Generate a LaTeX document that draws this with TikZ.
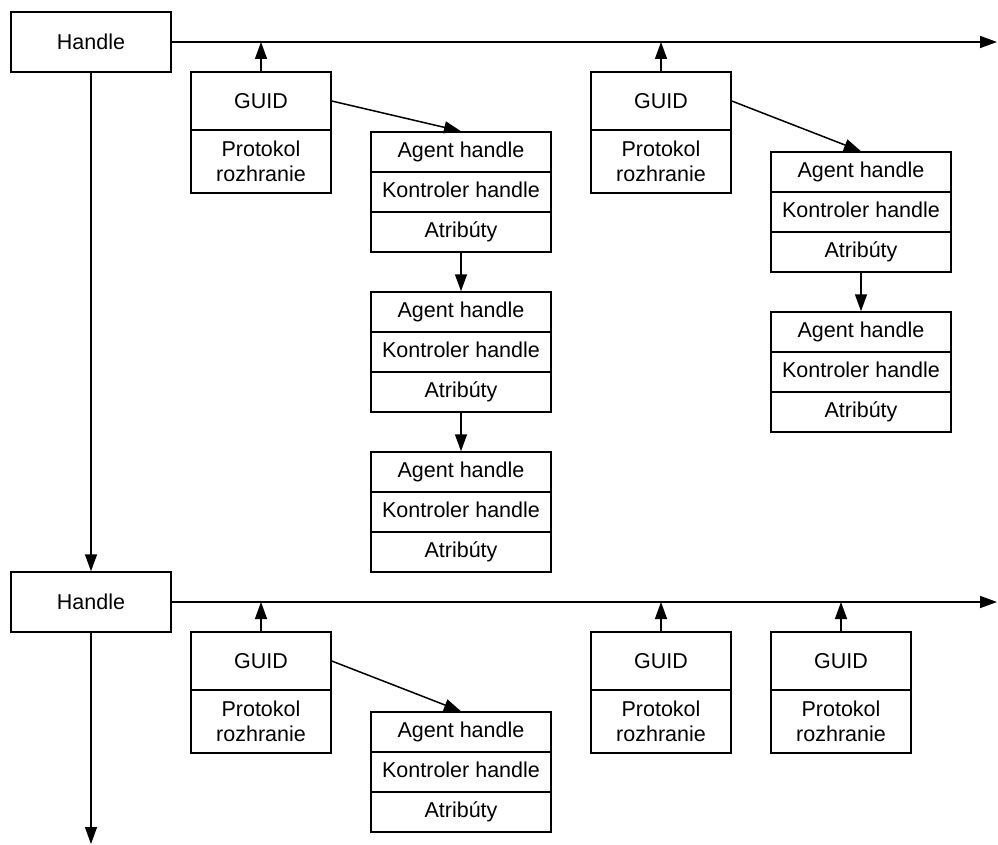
\documentclass[tikz,border=0pt]{standalone}
\usepackage{fontspec}
\setmainfont{Liberation Sans}
\usetikzlibrary{arrows.meta}
\begin{document}
\begin{tikzpicture}[x=1pt,y=-1pt,
  every node/.style={font=\fontsize{21.5}{25}\selectfont},
  cell/.style={draw, line width=1.5pt, inner sep=0pt, align=center},
  handlebox/.style={cell, minimum width=160pt, minimum height=60pt},
  guidcell/.style={cell, minimum width=140pt, minimum height=58pt},
  protocell/.style={cell, minimum width=140pt, minimum height=63pt},
  agentcell/.style={cell, text height=15.6pt, text depth=4.4pt,
    minimum width=180pt, minimum height=40pt},
  link/.style={line width=1.5pt, -{Triangle[length=17pt,width=12pt]}}
]
\useasboundingbox (0,0) rectangle (998,845);

% handles
\node[handlebox] (h1) at (91,42) {Handle};
\node[handlebox] (h2) at (91,602) {Handle};
\coordinate (e1) at (997,42);
\coordinate (e2) at (997,602);
\coordinate (e3) at (91,844);

% protocol interfaces
\node[guidcell]  (g1) at (261,101)   {GUID};
\node[protocell] (p1) at (261,161.5) {Protokol\\rozhranie};
\node[guidcell]  (g2) at (661,101)   {GUID};
\node[protocell] (p2) at (661,161.5) {Protokol\\rozhranie};
\node[guidcell]  (g3) at (261,661)   {GUID};
\node[protocell] (p3) at (261,721.5) {Protokol\\rozhranie};
\node[guidcell]  (g4) at (661,661)   {GUID};
\node[protocell] (p4) at (661,721.5) {Protokol\\rozhranie};
\node[guidcell]  (g5) at (841,661)   {GUID};
\node[protocell] (p5) at (841,721.5) {Protokol\\rozhranie};

% open-protocol entries
\foreach \n/\x/\y in {a1/461/152, a2/461/312, a3/461/472, a4/861/172, a5/861/332, a6/461/732} {
  \node[agentcell] (\n-ag) at (\x,\y)     {Agent handle};
  \node[agentcell] (\n-ko) at (\x,\y+40)  {Kontroler handle};
  \node[agentcell] (\n-at) at (\x,\y+80)  {Atribúty};
}

% handle database links
\draw[link] (h1.east) -- (e1);
\draw[link] (h2.east) -- (e2);
\draw[link] (h1.south) -- (h2.north);
\draw[link] (h2.south) -- (e3);

% interfaces attached to handles
\foreach \g/\h in {g1/h1, g2/h1, g3/h2, g4/h2, g5/h2}
  \draw[link] (\g.north) -- (\g.north |- \h.east);

% interfaces to their entry lists
\draw[link] (g1.east) -- (a1-ag.north);
\draw[link] (g2.east) -- (a4-ag.north);
\draw[link] (g3.east) -- (a6-ag.north);
\draw[link] (a1-at.south) -- (a2-ag.north);
\draw[link] (a2-at.south) -- (a3-ag.north);
\draw[link] (a4-at.south) -- (a5-ag.north);
\end{tikzpicture}
\end{document}
